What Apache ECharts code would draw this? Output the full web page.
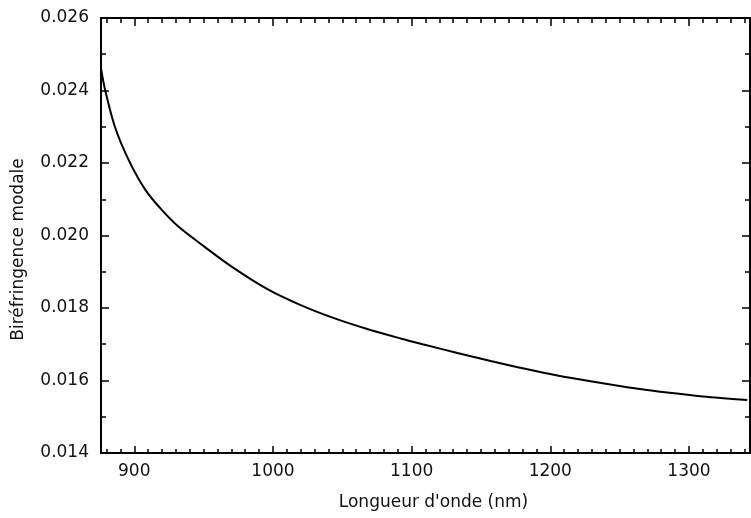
<!DOCTYPE html>
<html><head><meta charset="utf-8">
<script src="https://cdn.jsdelivr.net/npm/echarts@6/dist/echarts.min.js"></script>
<style>html,body{margin:0;padding:0;background:#fff}#c{width:751px;height:518px}</style>
</head><body><div id="c"></div>
<script>
// Data
const wavelength = [876, 879, 886, 896, 908, 920, 932, 951, 971, 996, 1020, 1044, 1068, 1092, 1108, 1133, 1157, 1181, 1205, 1229, 1262, 1286, 1310, 1342];
const biref = [0.02461, 0.02401, 0.02300, 0.02208, 0.02126, 0.02070, 0.02024, 0.01968, 0.01912, 0.01852, 0.01808, 0.01772, 0.01742, 0.01716, 0.01700, 0.01676, 0.01654, 0.01633, 0.01614, 0.01598, 0.01578, 0.01566, 0.01556, 0.01546];

const xMajorTicks = [900, 1000, 1100, 1200, 1300];
const yTicks = [0.014, 0.016, 0.018, 0.020, 0.022, 0.024, 0.026];
const xRange = [876, 1344];
const yRange = [0.014, 0.026];
const xMinorStep = 10;

const xMinorTicks = [];
for (let v = Math.ceil(xRange[0] / xMinorStep) * xMinorStep; v <= xRange[1]; v += xMinorStep) {
  if (xMajorTicks.indexOf(v) < 0) xMinorTicks.push(v);
}

const FONT = 'DejaVu Sans';
const INK = '#000';
const TXT = '#111';

function xAx(pos, ticks, len, withLine, labels) {
  const a = {
    type: 'value', position: pos, min: xRange[0], max: xRange[1],
    axisLine: { show: withLine, onZero: false, lineStyle: { color: INK, width: 2 } },
    axisTick: { show: true, inside: true, length: len, customValues: ticks, lineStyle: { color: INK, width: 1.5 } },
    axisLabel: { show: false },
    splitLine: { show: false }
  };
  if (labels) {
    a.axisLabel = { show: true, customValues: xMajorTicks, margin: 10, color: TXT, fontFamily: FONT, fontSize: 17,
      formatter: v => String(v) };
    a.name = "Longueur d'onde (nm)";
    a.nameLocation = 'middle';
    a.nameGap = 41;
    a.nameTextStyle = { color: TXT, fontFamily: FONT, fontSize: 17, padding: [0, 0, 0, 16] };
  }
  return a;
}

function yAx(pos, labels) {
  const a = {
    type: 'value', position: pos, min: yRange[0], max: yRange[1], interval: 0.002,
    axisLine: { show: true, onZero: false, lineStyle: { color: INK, width: 2 } },
    axisTick: { show: true, inside: true, length: 8, lineStyle: { color: INK, width: 1.5 } },
    minorTick: { show: true, splitNumber: 2, length: 5, lineStyle: { color: INK, width: 1.5 } },
    axisLabel: { show: false },
    splitLine: { show: false }
  };
  if (labels) {
    a.axisLabel = { show: true, customValues: yTicks, margin: 12, color: TXT, fontFamily: FONT, fontSize: 17,
      formatter: v => v.toFixed(3) };
    a.name = 'Biréfringence modale';
    a.nameLocation = 'middle';
    a.nameGap = 74;
    a.nameTextStyle = { color: TXT, fontFamily: FONT, fontSize: 17, padding: [0, 28, 0, 0] };
  }
  return a;
}

const chart = echarts.init(document.getElementById('c'), null, { renderer: 'canvas' });
chart.setOption({
  backgroundColor: '#fff',
  animation: false,
  grid: { left: 101, top: 18, right: 1, bottom: 65, containLabel: false, outerBoundsMode: 'none' },
  xAxis: [
    xAx('bottom', xMajorTicks, 7, true, true),
    xAx('bottom', xMinorTicks, 4, false, false),
    xAx('top', xMajorTicks, 8, true, false),
    xAx('top', xMinorTicks, 5, false, false)
  ],
  yAxis: [
    yAx('left', true),
    yAx('right', false)
  ],
  series: [{
    type: 'line',
    xAxisIndex: 0, yAxisIndex: 0,
    data: wavelength.map((w, i) => [w, biref[i]]),
    smooth: 0.3,
    showSymbol: false,
    lineStyle: { color: INK, width: 2 }
  }]
});
</script>
</body></html>
